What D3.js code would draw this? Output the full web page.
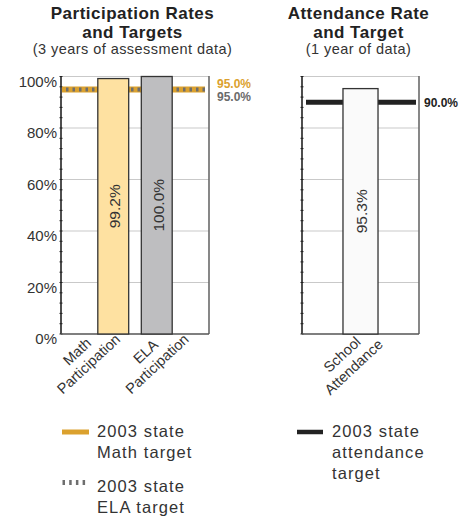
<!DOCTYPE html>
<html>
<head>
<meta charset="utf-8">
<script src="https://cdn.jsdelivr.net/npm/d3@7/dist/d3.min.js"></script>
<style>
  html, body { margin: 0; padding: 0; background: #fff; }
  svg { display: block; }
  text { font-family: "Liberation Sans", Arial, Helvetica, sans-serif; fill: #333; }
</style>
</head>
<body>
<svg id="chart" width="472" height="516"></svg>
<script>
// ---------- data ----------
const leftCategories = ["Math Participation", "ELA Participation"];
const leftLabelLines = [["Math", "Participation"], ["ELA", "Participation"]];
const leftValues = [99.2, 100.0];
const leftValueLabels = ["99.2%", "100.0%"];
const mathTarget = 95.0;
const elaTarget = 95.0;
const targetLabels = ["95.0%", "95.0%"];

const rightCategories = ["School Attendance"];
const rightLabelLines = [["School", "Attendance"]];
const rightValues = [95.3];
const rightValueLabels = ["95.3%"];
const attendanceTarget = 90.0;
const attendanceTargetLabel = "90.0%";

const yTickValues = [0, 20, 40, 60, 80, 100];
const yTickLabels = ["0%", "20%", "40%", "60%", "80%", "100%"];
const yMinorTicks = d3.range(0, 101, 4);

const leftTitle = ["Participation Rates", "and Targets"];
const leftSubtitle = "(3 years of assessment data)";
const rightTitle = ["Attendance Rate", "and Target"];
const rightSubtitle = "(1 year of data)";
const leftLegend = [["2003 state", "Math target"], ["2003 state", "ELA target"]];
const rightLegend = [["2003 state", "attendance", "target"]];

// ---------- styles ----------
const ORANGE = "#DBA12E";
const GRAYDASH = "#6E6E6E";
const barFillsLeft = ["#FEE1A1", "#BEBEC0"];
const barFillRight = "#FAFAFA";

const svg = d3.select("#chart");

const y = d3.scaleLinear().domain([0, 100]).range([334, 76.5]);

function panel(x0, x1, cats, values, fills, bandOpts, showYLabels) {
  const g = svg.append("g");
  const x = d3.scaleBand().domain(cats).range([x0, x1])
    .paddingInner(bandOpts.inner).paddingOuter(bandOpts.outer);

  // gridlines
  g.selectAll("line.grid").data(yTickValues.filter(d => d > 0)).enter()
    .append("line").attr("class", "grid")
    .attr("x1", x0).attr("x2", x1)
    .attr("y1", d => y(d)).attr("y2", d => y(d))
    .attr("stroke", "#C9C9C9").attr("stroke-width", 1);

  // left axis
  g.append("line").attr("x1", x0).attr("x2", x0).attr("y1", y(100) - 0.5).attr("y2", y(0))
    .attr("stroke", "#222").attr("stroke-width", 1.6);
  g.selectAll("line.minor").data(yMinorTicks).enter()
    .append("line").attr("class", "minor")
    .attr("x1", x0 - 1.5).attr("x2", x0 + 1.5)
    .attr("y1", d => y(d)).attr("y2", d => y(d))
    .attr("stroke", "#222").attr("stroke-width", 1);
  // right border
  g.append("line").attr("x1", x1).attr("x2", x1).attr("y1", y(100) - 0.5).attr("y2", y(0))
    .attr("stroke", "#6A6A6A").attr("stroke-width", 1.6);
  // bottom
  g.append("line").attr("x1", x0).attr("x2", x1).attr("y1", y(0)).attr("y2", y(0))
    .attr("stroke", "#555").attr("stroke-width", 1.6);

  if (showYLabels) {
    g.selectAll("text.ylab").data(yTickValues).enter()
      .append("text").attr("class", "ylab")
      .attr("x", x0 - 4).attr("y", d => y(d) + 10)
      .attr("text-anchor", "end").attr("font-size", 15)
      .text((d, i) => yTickLabels[i]);
  }
  return x;
}

function bars(x, cats, values, fills) {
  svg.append("g").selectAll("rect").data(values).enter()
    .append("rect")
    .attr("x", (d, i) => x(cats[i]))
    .attr("width", x.bandwidth())
    .attr("y", d => y(d))
    .attr("height", d => y(0) - y(d))
    .attr("fill", (d, i) => fills[i])
    .attr("stroke", "#333").attr("stroke-width", 1.3);
}

function valueLabels(x, cats, values, labels, dy) {
  svg.append("g").selectAll("text").data(values).enter()
    .append("text")
    .attr("transform", (d, i) => `translate(${x(cats[i]) + x.bandwidth() / 2},${(y(d) + y(0)) / 2}) rotate(-90)`)
    .attr("text-anchor", "middle").attr("dy", dy).attr("font-size", 15.5)
    .text((d, i) => labels[i]);
}

function xLabels(scale, cats, lines, cy) {
  cats.forEach((c, i) => {
    const t = svg.append("text")
      .attr("transform", `translate(${scale(c)},${cy}) rotate(-43)`)
      .attr("text-anchor", "middle").attr("font-size", 14.5);
    lines[i].forEach((ln, j) => {
      t.append("tspan").attr("x", 0).attr("y", j * 17).attr("dy", "0.35em").text(ln);
    });
  });
}

// ----- left panel -----
const xl = panel(61, 209, leftCategories, leftValues, barFillsLeft, {inner: 0.29, outer: 0.846}, true);

// target line (math solid orange, ELA gray dashes on top)
svg.append("line").attr("x1", 62).attr("x2", 205)
  .attr("y1", y(mathTarget)).attr("y2", y(mathTarget))
  .attr("stroke", ORANGE).attr("stroke-width", 6);
svg.append("line").attr("x1", 66).attr("x2", 205)
  .attr("y1", y(elaTarget)).attr("y2", y(elaTarget))
  .attr("stroke", GRAYDASH).attr("stroke-width", 4)
  .attr("stroke-dasharray", "2.5,4");
bars(xl, leftCategories, leftValues, barFillsLeft);

svg.append("text").attr("x", 217).attr("y", y(mathTarget) - 1)
  .attr("font-size", 12).attr("font-weight", "bold").style("fill", ORANGE)
  .text(targetLabels[0]);
svg.append("text").attr("x", 217).attr("y", y(elaTarget) + 11.5)
  .attr("font-size", 12).attr("font-weight", "bold").style("fill", "#6B6B6B")
  .text(targetLabels[1]);

valueLabels(xl, leftCategories, leftValues, leftValueLabels, "0.45em");

const xlLab = d3.scalePoint().domain(leftCategories).range([77, 145.5]);
xLabels(xlLab, leftCategories, leftLabelLines, 351.5);

// ----- right panel -----
const xr = panel(302, 419, rightCategories, rightValues, [barFillRight], {inner: 0, outer: 1.17}, false);
svg.append("line").attr("x1", 306).attr("x2", 416)
  .attr("y1", y(attendanceTarget)).attr("y2", y(attendanceTarget))
  .attr("stroke", "#222").attr("stroke-width", 5);
bars(xr, rightCategories, rightValues, [barFillRight]);
svg.append("text").attr("x", 424).attr("y", y(attendanceTarget) + 4.5)
  .attr("font-size", 12).attr("font-weight", "bold").style("fill", "#222")
  .text(attendanceTargetLabel);
valueLabels(xr, rightCategories, rightValues, rightValueLabels, "0.4em");

const xrLab = d3.scalePoint().domain(rightCategories).range([342, 342]);
xLabels(xrLab, rightCategories, rightLabelLines, 354.5);

// ----- titles -----
function title(cx, lines, sub) {
  lines.forEach((ln, i) => {
    svg.append("text").attr("x", cx).attr("y", 19.3 + i * 19)
      .attr("text-anchor", "middle").attr("font-size", 17).attr("font-weight", "bold")
      .style("letter-spacing", "0.5px").style("fill", "#222").text(ln);
  });
  svg.append("text").attr("x", cx).attr("y", 54.3)
    .attr("text-anchor", "middle").attr("font-size", 14.5)
    .style("letter-spacing", "0.45px").style("fill", "#333").text(sub);
}
title(132.5, leftTitle, leftSubtitle);
title(358.5, rightTitle, rightSubtitle);

// ----- legends -----
function legendText(x, yb, lines) {
  const t = svg.append("text").attr("font-size", 16.5).style("letter-spacing", "1.1px").style("fill", "#333");
  lines.forEach((ln, j) => t.append("tspan").attr("x", x).attr("y", yb + j * 21).text(ln));
}
svg.append("line").attr("x1", 62).attr("x2", 89).attr("y1", 432).attr("y2", 432)
  .attr("stroke", ORANGE).attr("stroke-width", 5);
legendText(97, 437, leftLegend[0]);
svg.append("line").attr("x1", 62.5).attr("x2", 89).attr("y1", 482.5).attr("y2", 482.5)
  .attr("stroke", GRAYDASH).attr("stroke-width", 5).attr("stroke-dasharray", "2.5,4.2");
legendText(97, 492, leftLegend[1]);
svg.append("line").attr("x1", 297).attr("x2", 323).attr("y1", 432).attr("y2", 432)
  .attr("stroke", "#222").attr("stroke-width", 4.5);
legendText(332, 437, rightLegend[0]);
</script>
</body>
</html>
